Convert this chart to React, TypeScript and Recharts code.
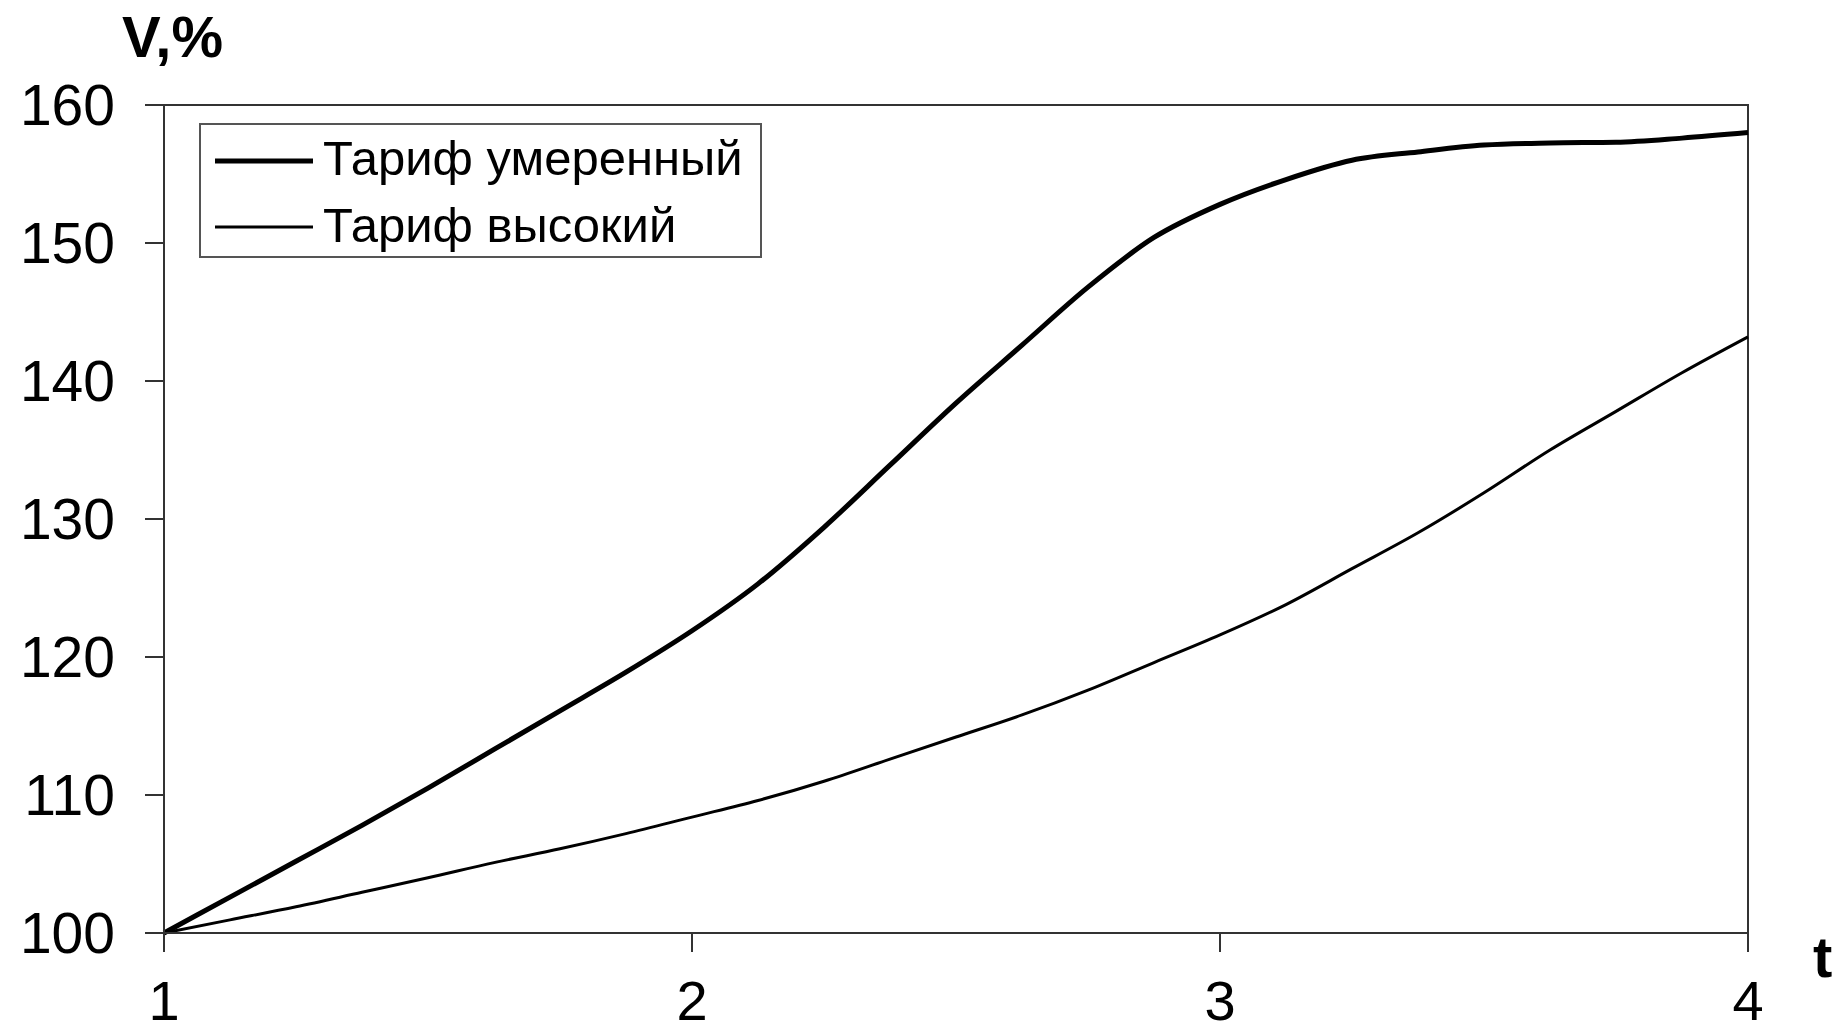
import React from "react";
import { LineChart, Line, XAxis, YAxis, ReferenceArea } from "recharts";

const tValues = [1, 1.125, 1.25, 1.375, 1.5, 1.625, 1.75, 1.875, 2, 2.125, 2.25, 2.375, 2.5, 2.625, 2.75, 2.875, 3, 3.125, 3.25, 3.375, 3.5, 3.625, 3.75, 3.875, 4];
const moderate = [100, 102.6, 105.2, 107.8, 110.5, 113.3, 116.1, 118.9, 121.9, 125.3, 129.4, 133.9, 138.4, 142.6, 146.8, 150.4, 152.8, 154.6, 156.0, 156.6, 157.1, 157.25, 157.3, 157.6, 158.0];
const high = [100, 100.95, 101.9, 102.95, 104.0, 105.1, 106.1, 107.2, 108.4, 109.6, 111.0, 112.6, 114.2, 115.8, 117.6, 119.6, 121.6, 123.8, 126.4, 129.0, 131.9, 135.0, 137.8, 140.6, 143.2];
const xTicks = [1, 2, 3, 4];
const yTicks = [100, 110, 120, 130, 140, 150, 160];
const seriesNames = ["Тариф умеренный", "Тариф высокий"];

const data = tValues.map((t, i) => ({ t, moderate: moderate[i], high: high[i] }));

const FONT = "'Liberation Sans', Arial, sans-serif";
const AXIS = "#333";

const YLabel = (props: any) => {
  const vb = props.viewBox || {};
  return (
    <text x={vb.x + vb.width - 42} y={vb.y - 48} fontFamily={FONT} fontWeight="bold" fontSize={58} fill="#000" textAnchor="start">
      V,%
    </text>
  );
};

const XLabel = (props: any) => {
  const vb = props.viewBox || {};
  return (
    <text x={vb.x + vb.width + 65} y={vb.y + 44} fontFamily={FONT} fontWeight="bold" fontSize={58} fill="#000" textAnchor="start">
      t
    </text>
  );
};

const LegendBox = () => (
  <svg width={563} height={135} style={{ display: "block" }}>
    <rect x={1} y={1} width={561} height={133} fill="#fff" stroke="#555" strokeWidth={2} />
    <line x1={16} x2={114} y1={38} y2={38} stroke="#000" strokeWidth={5} />
    <text x={124} y={52} fontFamily={FONT} fontSize={49} fill="#000">{seriesNames[0]}</text>
    <line x1={16} x2={114} y1={104} y2={104} stroke="#000" strokeWidth={3} />
    <text x={124} y={119} fontFamily={FONT} fontSize={49} fill="#000">{seriesNames[1]}</text>
  </svg>
);

export default function App() {
  return (
    <div style={{ position: "fixed", left: 0, top: 0, width: 1837, height: 1035, background: "#fff" }}>
      <LineChart width={1837} height={1035} data={data} margin={{ top: 105, right: 89, left: 0, bottom: 0 }}>
        <ReferenceArea x1={1} x2={4} y1={100} y2={160} fill="none" stroke={AXIS} strokeWidth={2} ifOverflow="visible" />
        <XAxis
          dataKey="t"
          type="number"
          domain={[1, 4]}
          ticks={xTicks}
          height={102}
          tickSize={19}
          tickMargin={28}
          axisLine={{ stroke: AXIS, strokeWidth: 2 }}
          tickLine={{ stroke: AXIS, strokeWidth: 2 }}
          tick={{ fontFamily: FONT, fontSize: 56, fill: "#000" }}
          interval={0}
          allowDecimals={false}
          label={<XLabel />}
        />
        <YAxis
          type="number"
          domain={[100, 160]}
          ticks={yTicks}
          width={164}
          tickSize={19}
          tickMargin={30}
          axisLine={{ stroke: AXIS, strokeWidth: 2 }}
          tickLine={{ stroke: AXIS, strokeWidth: 2 }}
          tick={{ fontFamily: FONT, fontSize: 57, fill: "#000" }}
          interval={0}
          label={<YLabel />}
        />
        <Line type="monotone" dataKey="moderate" name={seriesNames[0]} stroke="#000" strokeWidth={5} dot={false} isAnimationActive={false} />
        <Line type="monotone" dataKey="high" name={seriesNames[1]} stroke="#000" strokeWidth={3} dot={false} isAnimationActive={false} />
      </LineChart>
      <div style={{ position: "absolute", left: 199, top: 123 }}>
        <LegendBox />
      </div>
    </div>
  );
}
